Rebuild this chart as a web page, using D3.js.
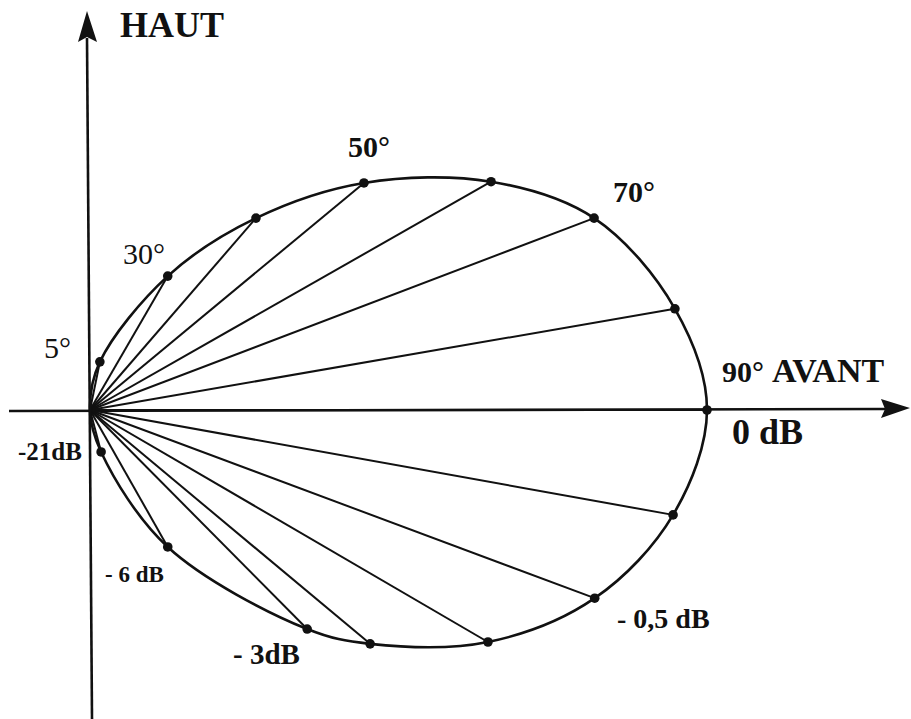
<!DOCTYPE html>
<html>
<head>
<meta charset="utf-8">
<script src="https://cdn.jsdelivr.net/npm/d3@7"></script>
<style>
  html, body { margin: 0; padding: 0; background: #fff; }
  svg { display: block; }
  text { font-family: "Liberation Serif", "Times New Roman", serif; fill: #111; }
</style>
</head>
<body>
<script>
// ---- Data (relative units: 0 dB at front = 1) ----
const upperX = [0.016, 0.126, 0.269, 0.444, 0.650, 0.817, 0.948, 1.0];
const upperY = [0.078, 0.217, 0.311, 0.368, 0.370, 0.311, 0.164, 0.0];
const lowerX = [0.018, 0.126, 0.352, 0.454, 0.645, 0.818, 0.945];
const lowerY = [-0.068, -0.222, -0.355, -0.379, -0.376, -0.305, -0.170];
const angleLabels = ["5°", "30°", "50°", "70°"];
const frontLabel = "90°";
const dBLabels = ["-21dB", "- 6 dB", "- 3dB", "- 0,5 dB", "0 dB"];
const axisLabels = ["HAUT", "AVANT"];

const W = 911, H = 719;
const svg = d3.select("body").append("svg").attr("width", W).attr("height", H);

const x = d3.scaleLinear().domain([0, 1]).range([90, 707]);
const y = d3.scaleLinear().domain([0, 1]).range([410, -207]);

const ink = "#111";

// ---- axes ----
svg.append("line").attr("x1", 9).attr("y1", 411).attr("x2", 885).attr("y2", 409)
  .attr("stroke", ink).attr("stroke-width", 2.6);
svg.append("path").attr("d", "M910,408 L881,399 L885,409 L881,418 Z").attr("fill", ink);

svg.append("line").attr("x1", 87).attr("y1", 38).attr("x2", 92).attr("y2", 719)
  .attr("stroke", ink).attr("stroke-width", 2.6);
svg.append("path").attr("d", "M87,11 L78,42 L87,37 L97,42 Z").attr("fill", ink);

// ---- points ----
const upper = upperX.map((v, i) => [v, upperY[i]]);
const lower = lowerX.map((v, i) => [v, lowerY[i]]);
const all = upper.concat(lower);

// rays
svg.append("g").selectAll("line").data(all).join("line")
  .attr("x1", x(0)).attr("y1", y(0))
  .attr("x2", d => x(d[0])).attr("y2", d => y(d[1]))
  .attr("stroke", ink).attr("stroke-width", 2);

// closed curve
const ring = [[0, 0]].concat(upper, lower.slice().reverse());
const line = d3.line().x(d => x(d[0])).y(d => y(d[1])).curve(d3.curveCatmullRomClosed.alpha(0.5));
svg.append("path").attr("d", line(ring)).attr("fill", "none")
  .attr("stroke", ink).attr("stroke-width", 2.6);

// dots
svg.append("g").selectAll("circle").data(all).join("circle")
  .attr("cx", d => x(d[0])).attr("cy", d => y(d[1])).attr("r", 4.8).attr("fill", ink);

// ---- labels ----
function label(t, px, py, size, weight) {
  svg.append("text").attr("x", px).attr("y", py).attr("font-size", size)
    .attr("font-weight", weight || "bold").text(t);
}
label(axisLabels[0], 120, 37, 36);
label(angleLabels[0], 44, 358, 30, "normal");
label(angleLabels[1], 123, 264, 30, "normal");
label(angleLabels[2], 348, 157, 30);
label(angleLabels[3], 613, 202, 30);
label(frontLabel, 722, 382, 30);
label(axisLabels[1], 772, 382, 34);
label(dBLabels[4], 732, 444, 36);
label(dBLabels[0], 18, 460, 25);
label(dBLabels[1], 105, 582, 23);
label(dBLabels[2], 233, 664, 29);
label(dBLabels[3], 617, 628, 28);
</script>
</body>
</html>
